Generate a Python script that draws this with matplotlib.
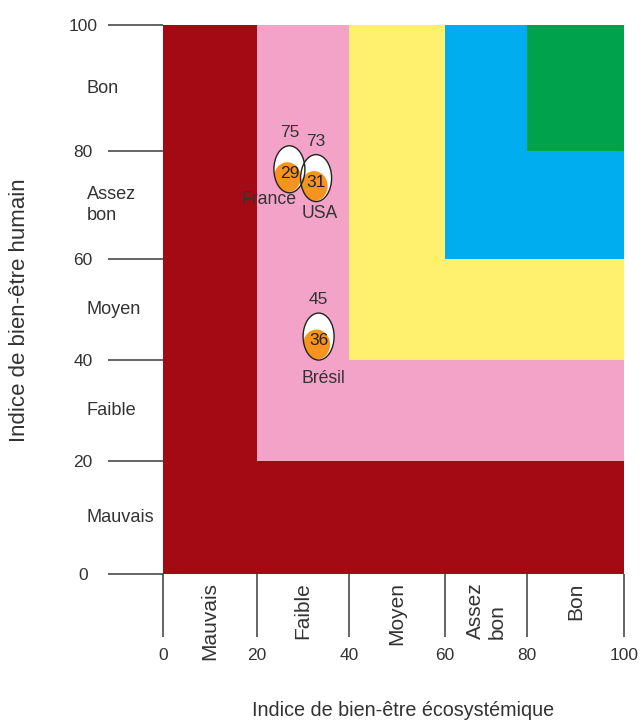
import numpy as np
import matplotlib
matplotlib.use('Agg')
import matplotlib.pyplot as plt
from matplotlib import font_manager, transforms
from matplotlib.patches import Ellipse

# Données
niveaux = [0, 20, 40, 60, 80]
couleurs = ['#A30A14', '#F4A3C8', '#FFF16E', '#00AEEF', '#00A34B']
categories = ['Mauvais', 'Faible', 'Moyen', 'Assez\nbon', 'Bon']
centres_cat = [10, 30, 50, 70, 90]
graduations = [0, 20, 40, 60, 80, 100]

pays = ['France', 'USA', 'Brésil']
indice_humain = [75, 73, 45]
indice_eco = [29, 31, 36]

# décalages (px) des oeufs et des noms pour éviter le chevauchement
decal_oeuf = [(-9, -9), (8.5, -11), (-12, 2)]
decal_nom = [(-20.5, 30), (4, 35.5), (4.5, 42)]

# police étroite si disponible
try:
    font_manager.findfont('Liberation Sans Narrow', fallback_to_default=False)
    etroite, k = 'Liberation Sans Narrow', 1.0
except ValueError:
    etroite, k = 'Liberation Sans', 0.86
normale = 'Liberation Sans'
gris = '#333333'

# échelle non linéaire (positions des limites de zones)
ancres = [-100, 0, 20, 40, 60, 80, 100, 200]
fx = [-1.0, 0.0, 94 / 461, 186 / 461, 282 / 461, 364 / 461, 1.0, 2.0]
fy = [-1.0, 0.0, 113 / 548, 214 / 548, 314 / 548, 422 / 548, 1.0, 2.0]

def echelle(frac):
    return (lambda v: np.interp(v, ancres, frac),
            lambda t: np.interp(t, frac, ancres))

fig = plt.figure(figsize=(6.42, 7.22), dpi=100)
ax = fig.add_axes([163 / 642, 1 - 574 / 722, 461 / 642, 549 / 722])
ax.set_xscale('function', functions=echelle(fx))
ax.set_yscale('function', functions=echelle(fy))

# zones emboîtées
for b, c in zip(niveaux, couleurs):
    ax.fill_between([b, 100], b, 100, color=c, lw=0, zorder=1)

ax.set_xlim(0, 100)
ax.set_ylim(0, 100)
for s in ax.spines.values():
    s.set_visible(False)

ax.set_xticks(graduations)
ax.set_yticks(graduations)
ax.tick_params(axis='x', length=45, width=1.1, color='#3a3a3a', pad=8.5,
               labelsize=14.5 * k, labelcolor=gris)
ax.tick_params(axis='y', length=39.5, width=1.1, color='#3a3a3a', pad=18,
               labelsize=14.5 * k, labelcolor=gris)
for lbl in ax.get_xticklabels() + ax.get_yticklabels():
    lbl.set_family(etroite)
for lbl in ax.get_yticklabels():
    lbl.set_ha('center')

# catégories des deux axes
for cat, m in zip(categories, centres_cat):
    ax.annotate(cat, xy=(m, 0), xycoords=('data', 'axes fraction'),
                xytext=(0, -6), textcoords='offset points', rotation=90,
                ha='center', va='top', multialignment='left',
                fontsize=15, family=normale, color=gris, annotation_clip=False)
    ax.annotate(cat, xy=(0, m), xycoords=('axes fraction', 'data'),
                xytext=(-76 * 0.72, 0), textcoords='offset points',
                ha='left', va='center', linespacing=1.3,
                fontsize=15.2 * k, family=etroite, color=gris, annotation_clip=False)

fig.text(403 / 642, 1 - 710 / 722, 'Indice de bien-être écosystémique',
         ha='center', va='center', fontsize=16.5 * k, family=etroite, color=gris)
fig.text(20 / 642, 1 - 310 / 722, 'Indice de bien-être humain', rotation=90,
         ha='center', va='center', fontsize=16, family=normale, color=gris)

# les "oeufs" du bien-être
for i, nom in enumerate(pays):
    x, y = indice_eco[i], indice_humain[i]
    dx, dy = decal_oeuf[i]
    trans = fig.dpi_scale_trans + transforms.ScaledTranslation(x, y, ax.transData)
    cx, cy = dx / 100, -dy / 100
    blanc = Ellipse((cx, cy), 0.31, 0.47, transform=trans, fc='white', ec='none', zorder=3)
    ax.add_patch(blanc)
    jaune = Ellipse((cx - 0.02, cy - 0.08), 0.27, 0.30, transform=trans,
                    fc='#F7931E', ec='none', zorder=4)
    ax.add_patch(jaune)
    jaune.set_clip_path(blanc)
    ax.add_patch(Ellipse((cx, cy), 0.31, 0.47, transform=trans, fc='none',
                         ec='#222222', lw=1.0, zorder=5))

    ax.annotate(str(y), xy=(x, y), xytext=(dx * 0.72, -(dy - 37) * 0.72),
                textcoords='offset points', ha='center', va='center',
                fontsize=14.5 * k, family=etroite, color=gris, zorder=6)
    ax.annotate(str(x), xy=(x, y), xytext=(dx * 0.72, -(dy + 4) * 0.72),
                textcoords='offset points', ha='center', va='center',
                fontsize=14.5 * k, family=etroite, color='#222222', zorder=6)
    nx, ny = decal_nom[i]
    ax.annotate(nom, xy=(x, y), xytext=((dx + nx) * 0.72, -(dy + ny) * 0.72),
                textcoords='offset points', ha='center', va='center',
                fontsize=14.8 * k, family=etroite, color=gris, zorder=6)

ax.set_xlim(0, 100)
ax.set_ylim(0, 100)
fig.savefig('out.png', dpi=100)
